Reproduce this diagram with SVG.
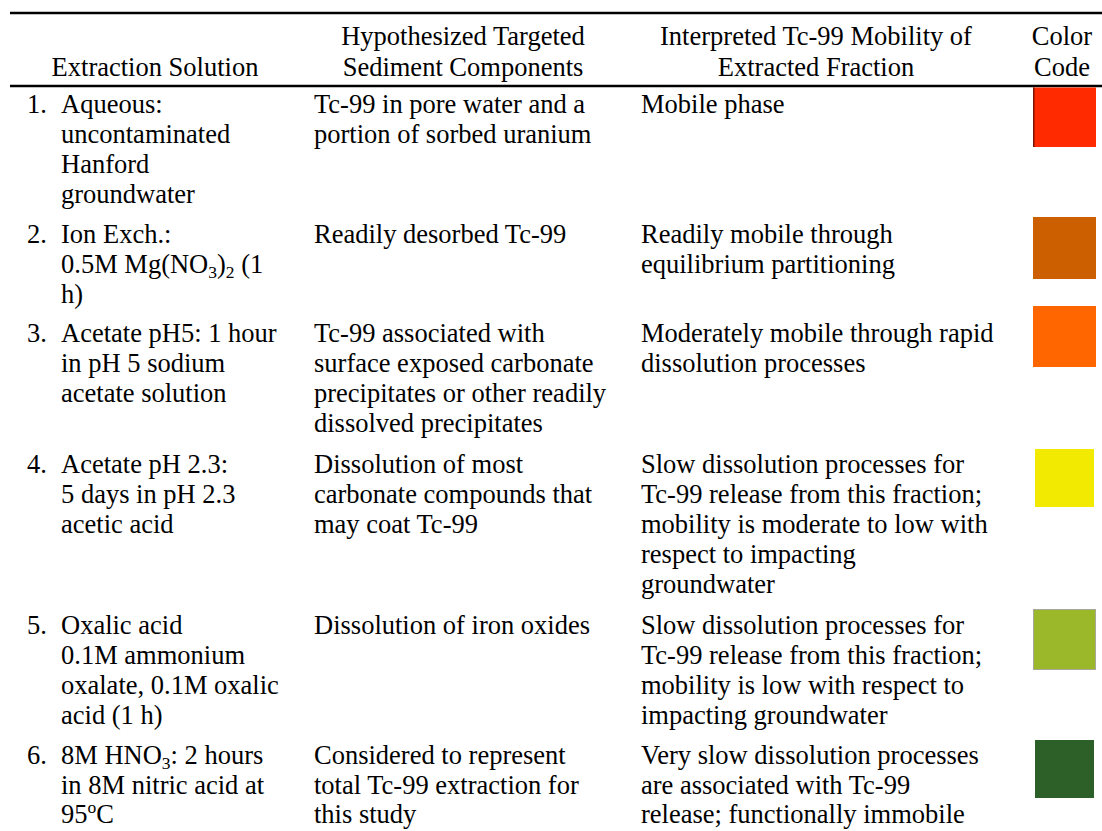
<svg xmlns="http://www.w3.org/2000/svg" width="1102" height="831" viewBox="0 0 1102 831">
  <style>
    text { font-family: 'Liberation Serif', 'Times New Roman', serif; font-size: 26.5px; fill: #000; }
    .hd { text-anchor: middle; }
    .rule { stroke: #000; stroke-width: 2.6; }
    .sub { font-size: 17.5px; }
  </style>
  <rect width="1102" height="831" fill="#fff"/>

  <!-- table rules -->
  <g id="rules">
    <line class="rule" x1="10" y1="13" x2="1102" y2="13"/>
    <line class="rule" x1="10" y1="86" x2="1102" y2="86"/>
  </g>

  <!-- header -->
  <g id="header">
    <text class="hd" x="155" y="76">Extraction Solution</text>
    <text class="hd" x="463" y="45">Hypothesized Targeted</text>
    <text class="hd" x="463" y="76">Sediment Components</text>
    <text class="hd" x="816" y="45">Interpreted Tc-99 Mobility of</text>
    <text class="hd" x="816" y="76">Extracted Fraction</text>
    <text class="hd" x="1062" y="45">Color</text>
    <text class="hd" x="1062" y="76">Code</text>
  </g>

  <!-- row 1 -->
  <g id="row1">
    <text x="27" y="113">1.</text>
    <text x="61" y="113">Aqueous:</text>
    <text x="61" y="143">uncontaminated</text>
    <text x="61" y="173">Hanford</text>
    <text x="61" y="203">groundwater</text>
    <text x="314" y="113">Tc-99 in pore water and a</text>
    <text x="314" y="143">portion of sorbed uranium</text>
    <text x="641" y="113">Mobile phase</text>
    <rect x="1033" y="87.5" width="63" height="59.5" fill="#ff2a00"/>
    <rect x="1033" y="87.5" width="1.5" height="59.5" fill="#7a1400"/>
  </g>

  <!-- row 2 -->
  <g id="row2">
    <text x="27" y="243">2.</text>
    <text x="61" y="243">Ion Exch.:</text>
    <text x="61" y="273">0.5M Mg(NO<tspan class="sub" dy="5">3</tspan><tspan dy="-5">)</tspan><tspan class="sub" dy="5">2</tspan><tspan dy="-5"> (1</tspan></text>
    <text x="61" y="303">h)</text>
    <text x="314" y="243">Readily desorbed Tc-99</text>
    <text x="641" y="243">Readily mobile through</text>
    <text x="641" y="273">equilibrium partitioning</text>
    <rect x="1033" y="217" width="63" height="62" fill="#cc6000"/>
  </g>

  <!-- row 3 -->
  <g id="row3">
    <text x="27" y="342">3.</text>
    <text x="61" y="342">Acetate pH5: 1 hour</text>
    <text x="61" y="372">in pH 5 sodium</text>
    <text x="61" y="402">acetate solution</text>
    <text x="314" y="342">Tc-99 associated with</text>
    <text x="314" y="372">surface exposed carbonate</text>
    <text x="314" y="402">precipitates or other readily</text>
    <text x="314" y="432">dissolved precipitates</text>
    <text x="641" y="342">Moderately mobile through rapid</text>
    <text x="641" y="372">dissolution processes</text>
    <rect x="1033" y="306" width="63" height="61" fill="#ff6600"/>
  </g>

  <!-- row 4 -->
  <g id="row4">
    <text x="27" y="473">4.</text>
    <text x="61" y="473">Acetate pH 2.3:</text>
    <text x="61" y="503">5 days in pH 2.3</text>
    <text x="61" y="533">acetic acid</text>
    <text x="314" y="473">Dissolution of most</text>
    <text x="314" y="503">carbonate compounds that</text>
    <text x="314" y="533">may coat Tc-99</text>
    <text x="641" y="473">Slow dissolution processes for</text>
    <text x="641" y="503">Tc-99 release from this fraction;</text>
    <text x="641" y="533">mobility is moderate to low with</text>
    <text x="641" y="563">respect to impacting</text>
    <text x="641" y="593">groundwater</text>
    <rect x="1035" y="449" width="59" height="58" fill="#f2ea00"/>
  </g>

  <!-- row 5 -->
  <g id="row5">
    <text x="27" y="634">5.</text>
    <text x="61" y="634">Oxalic acid</text>
    <text x="61" y="664">0.1M ammonium</text>
    <text x="61" y="694">oxalate, 0.1M oxalic</text>
    <text x="61" y="724">acid (1 h)</text>
    <text x="314" y="634">Dissolution of iron oxides</text>
    <text x="641" y="634">Slow dissolution processes for</text>
    <text x="641" y="664">Tc-99 release from this fraction;</text>
    <text x="641" y="694">mobility is low with respect to</text>
    <text x="641" y="724">impacting groundwater</text>
    <rect x="1033.5" y="609.5" width="62" height="60" fill="#9ab829" stroke="#a8a89a" stroke-width="1"/>
  </g>

  <!-- row 6 -->
  <g id="row6">
    <text x="27" y="764">6.</text>
    <text x="61" y="764">8M HNO<tspan class="sub" dy="5">3</tspan><tspan dy="-5">: 2 hours</tspan></text>
    <text x="61" y="794">in 8M nitric acid at</text>
    <text x="61" y="823">95<tspan class="sub" dy="-10">o</tspan><tspan dy="10">C</tspan></text>
    <text x="314" y="764">Considered to represent</text>
    <text x="314" y="794">total Tc-99 extraction for</text>
    <text x="314" y="823">this study</text>
    <text x="641" y="764">Very slow dissolution processes</text>
    <text x="641" y="794">are associated with Tc-99</text>
    <text x="641" y="823">release; functionally immobile</text>
    <rect x="1035" y="740" width="59" height="58" fill="#2d6029"/>
  </g>
</svg>
